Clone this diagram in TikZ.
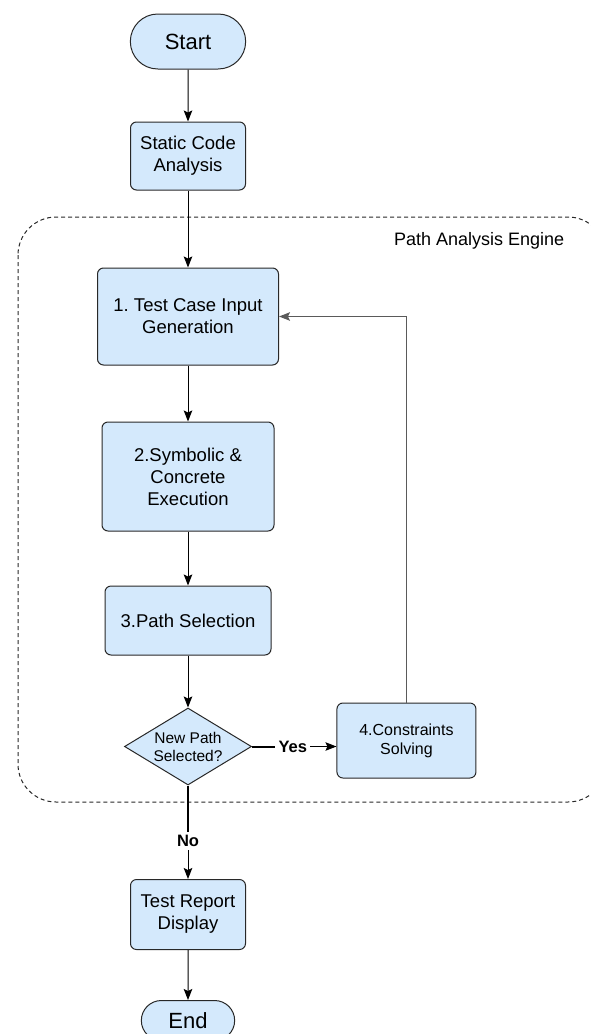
\documentclass[tikz,border=0pt]{standalone}
\usepackage{fontspec}
\setmainfont{Liberation Sans}
\usetikzlibrary{positioning,shapes.geometric,shapes.misc,arrows.meta}
\definecolor{boxblue}{RGB}{212,233,252}
\definecolor{edgegray}{RGB}{40,40,40}
\definecolor{loopgray}{RGB}{90,90,90}
\frenchspacing

\begin{document}
\begin{tikzpicture}[x=1pt, y=1pt, line width=1pt, >={Stealth[length=11pt,width=8.5pt,inset=2pt]},
                    box node/.style={rectangle,rounded corners=6pt,draw=edgegray,fill=boxblue,align=center,font=\fontsize{18.5}{22}\selectfont},
                    term node/.style={rounded rectangle,draw=edgegray,fill=boxblue,font=\fontsize{22}{26}\selectfont},
                    test node/.style={diamond,aspect=1.65,inner sep=0pt,draw=edgegray,fill=boxblue,align=center,
                                      minimum width=127pt,minimum height=77pt,font=\fontsize{15.5}{18}\selectfont},
                    word node/.style={inner sep=3pt,font=\fontsize{16.5}{19}\selectfont\bfseries},
                    group box/.style={draw=edgegray,dash pattern=on 4pt off 3pt,rounded corners=38pt}]

  \useasboundingbox (0,0) rectangle (590,-1034);

  % engine area, it runs past the right edge
  \draw[group box] (18,-217) rectangle (606,-802);
  \node[font=\fontsize{18}{21}\selectfont,anchor=east] (engine) at (568,-241) {Path Analysis Engine};

  \node[term node,minimum width=122pt,minimum height=55pt] (start) at (188,-41.5) {Start};
  \node[box node,minimum width=115pt,minimum height=68pt] (static) [below=52pt of start] {Static Code\\Analysis};
  \node[box node,minimum width=181pt,minimum height=97pt] (input) [below=77pt of static] {1. Test Case Input\\Generation};
  \node[box node,minimum width=172pt,minimum height=109pt] (exec) [below=56pt of input] {2.Symbolic \&\\Concrete\\Execution};
  \node[box node,minimum width=166pt,minimum height=69pt] (select) [below=54pt of exec] {3.Path Selection};
  \node[test node] (newpath) [below=52pt of select] {New Path\\Selected?};
  \node[word node] (yes) [right=23pt of newpath] {Yes};
  \node[box node,minimum width=139pt,minimum height=75pt,font=\fontsize{16}{19}\selectfont] (solve) [right=26pt of yes,yshift=6pt] {4.Constraints\\Solving};
  \node[word node] (no) [below=46pt of newpath] {No};
  \node[box node,minimum width=115pt,minimum height=70pt] (report) [below=29pt of no] {Test Report\\Display};
  \node[term node,minimum width=100pt,minimum height=40pt] (stop) [below=50pt of report] {End};

  \draw[->] (start) -- (static);
  \draw[->] (static) -- (input);
  \draw[->] (input) -- (exec);
  \draw[->] (exec) -- (select);
  \draw[->] (select) -- (newpath);
  \draw[line width=2pt] (newpath) -- (yes);
  \draw[->] (yes) -- (yes -| solve.west);
  \draw[->,draw=loopgray,line width=1.3pt] (solve) |- (input);
  \draw[line width=2pt] (newpath) -- (no);
  \draw[->] (no) -- (report);
  \draw[->] (report) -- (stop);
\end{tikzpicture}
\end{document}
